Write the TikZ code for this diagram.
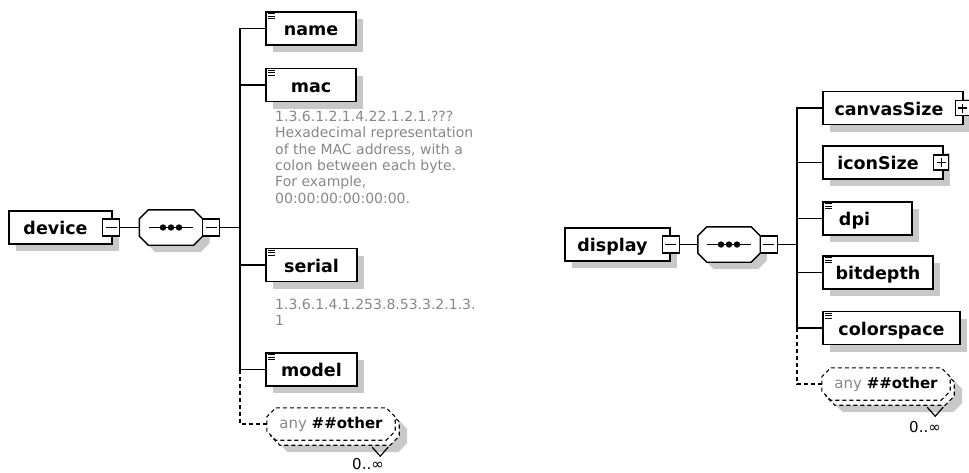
\documentclass[tikz,border=0pt]{standalone}
\usepackage{fontspec}
\setmainfont{DejaVu Sans}
\usetikzlibrary{shadows,backgrounds}

\definecolor{notegray}{RGB}{135,135,135}
\definecolor{shadowgray}{RGB}{200,200,200}

\tikzset{
  elem/.style={draw,fill=white,line width=1.4pt,minimum height=33pt,
    inner xsep=0pt,inner ysep=7.5pt,text height=16pt,text depth=2pt,
    font=\fontsize{17.5}{20}\selectfont\bfseries,
    drop shadow={shadow xshift=7pt,shadow yshift=-7pt,fill=shadowgray,opacity=1}},
  seqbox/.style={minimum width=63pt,minimum height=35pt,inner sep=0pt},
  minusbox/.style={draw,fill=white,line width=1.1pt,minimum size=17pt,inner sep=0pt,
    path picture={\draw[line width=1.1pt] ([xshift=3pt]path picture bounding box.west)
      -- ([xshift=-3pt]path picture bounding box.east);}},
  plusbox/.style={draw,fill=white,line width=1.1pt,minimum size=15pt,inner sep=0pt,
    path picture={\draw[line width=1.1pt] ([xshift=3pt]path picture bounding box.west)
      -- ([xshift=-3pt]path picture bounding box.east);
      \draw[line width=1.1pt] ([yshift=3pt]path picture bounding box.south)
      -- ([yshift=-3pt]path picture bounding box.north);}},
  anybox/.style={minimum width=128pt,minimum height=32pt,inner sep=0pt,
    font=\fontsize{15}{18}\selectfont},
  note/.style={anchor=north west,inner sep=0pt,align=left,text=notegray,
    font=\fontsize{14}{16.3}\selectfont},
  card/.style={inner sep=0pt,font=\fontsize{15}{18}\selectfont},
  conn/.style={line width=1.2pt},
  optconn/.style={line width=1.1pt,dash pattern=on 4pt off 3pt}
}

% octagon round a node, #2 = size of the cut corners
\newcommand\octpath[2]{([xshift=#2]#1.north west) -- ([xshift=-#2]#1.north east)
  -- ([yshift=-#2]#1.north east) -- ([yshift=#2]#1.south east)
  -- ([xshift=-#2]#1.south east) -- ([xshift=#2]#1.south west)
  -- ([yshift=#2]#1.south west) -- ([yshift=-#2]#1.north west) -- cycle}

\newcommand\seqshape[1]{%
  \begin{scope}[on background layer]
    \begin{scope}[transform canvas={shift={(7pt,-7pt)}}]
      \fill[shadowgray] \octpath{#1}{9pt};
    \end{scope}
    \filldraw[fill=white,line width=1.4pt] \octpath{#1}{9pt};
  \end{scope}
  \draw[line width=1.2pt] ([xshift=-22pt]#1.center) -- ([xshift=22pt]#1.center);
  \foreach \d in {-8,0,8}
    {\fill ([xshift=\d pt]#1.center) circle (3.2pt);}}

\newcommand\anyshape[1]{%
  \begin{scope}[on background layer]
    \begin{scope}[transform canvas={shift={(12pt,-12pt)}}]
      \fill[shadowgray] \octpath{#1}{9pt};
    \end{scope}
    \begin{scope}[transform canvas={shift={(4pt,-5pt)}}]
      \filldraw[fill=white,optconn] \octpath{#1}{9pt};
    \end{scope}
    \filldraw[fill=white,optconn] \octpath{#1}{9pt};
  \end{scope}
  \draw[conn] ([shift={(-23pt,-7pt)}]#1.south east) -- ++(8pt,-9pt) -- ++(8pt,9pt);}

\newcommand\elicon[1]{%
  \foreach \dy in {2.5,4.9,7.3}
    {\draw[line width=.8pt] ([shift={(3pt,-\dy pt)}]#1.north west) -- ++(7pt,0);}}
\newcommand\anytext{{\color{notegray}any} \textbf{\#\#other}}

\begin{document}
\begin{tikzpicture}[x=1pt,y=-1pt]
  \useasboundingbox (0,0) rectangle (969,472);

  % device
  \node[elem,minimum width=103pt] (device) at (60.5,227.5) {device\hspace*{10pt}};
  \node[minusbox] (devminus) at ([xshift=-1.5pt]device.east) {};
  \node[seqbox] (seqL) at (171,227.5) {};
  \node[minusbox] (seqLminus) at ([xshift=8.5pt]seqL.east) {};
  \coordinate (busL) at (240,227.5);

  \node[elem,minimum width=90pt] (name) at (311,28.5) {name};
  \node[elem,minimum width=90pt] (mac) at (311,85) {mac};
  \node[elem,minimum width=91pt] (serial) at (311.5,265) {serial};
  \node[elem,minimum width=91pt] (model) at (311.5,369.5) {model};
  \node[anybox] (anyL) at (331,424) {\anytext};
  \node[card] (cardL) at (368,464) {0..∞};

  \node[note] (macnote) at (275,111) {1.3.6.1.2.1.4.22.1.2.1.???\\
    Hexadecimal representation\\of the MAC address, with a\\
    colon between each byte.\\For example,\\00:00:00:00:00:00.};
  \node[note] (serialnote) at (275,299) {1.3.6.1.4.1.253.8.53.3.2.1.3.\\1};

  \seqshape{seqL}
  \anyshape{anyL}
  \draw[conn] (devminus) -- (seqL);
  \draw[conn] (seqLminus) -- (busL);
  \foreach \c in {name,mac,serial,model}
    \draw[conn] (busL) |- (\c);
  \draw[optconn] (busL |- model) |- (anyL);

  % display
  \node[elem,minimum width=105pt] (display) at (617.5,244.5) {display\hspace*{10pt}};
  \node[minusbox] (dispminus) at (display.east) {};
  \node[seqbox,minimum width=62pt] (seqR) at (729,244.5) {};
  \node[minusbox] (seqRminus) at ([xshift=8.5pt]seqR.east) {};
  \coordinate (busR) at (797,244.5);

  \node[elem,minimum width=140pt,minimum height=32pt] (canvasSize) at (893,108) {canvasSize\hspace*{8pt}};
  \node[plusbox] (canvasplus) at ([xshift=-1pt]canvasSize.east) {};
  \node[elem,minimum width=120pt] (iconSize) at (883,162.5) {iconSize\hspace*{10pt}};
  \node[plusbox] (iconplus) at ([xshift=-2.5pt]iconSize.east) {};
  \node[elem,minimum width=89pt] (dpi) at (867.5,218.5) {dpi\hspace*{26pt}};
  \node[elem,minimum width=110pt,minimum height=31pt] (bitdepth) at (878,272.5) {bitdepth};
  \node[elem,minimum width=137pt,minimum height=32pt] (colorspace) at (891.5,328) {colorspace};
  \node[anybox] (anyR) at (886,384) {\anytext};
  \node[card] (cardR) at (925,427) {0..∞};

  \seqshape{seqR}
  \anyshape{anyR}
  \draw[conn] (dispminus) -- (seqR);
  \draw[conn] (seqRminus) -- (busR);
  \foreach \c in {canvasSize,iconSize,dpi,bitdepth,colorspace}
    \draw[conn] (busR) |- (\c);
  \draw[optconn] (busR |- colorspace) |- (anyR);

  \foreach \c in {name,mac,serial,model,dpi,bitdepth,colorspace}
    {\elicon{\c}}
\end{tikzpicture}
\end{document}
